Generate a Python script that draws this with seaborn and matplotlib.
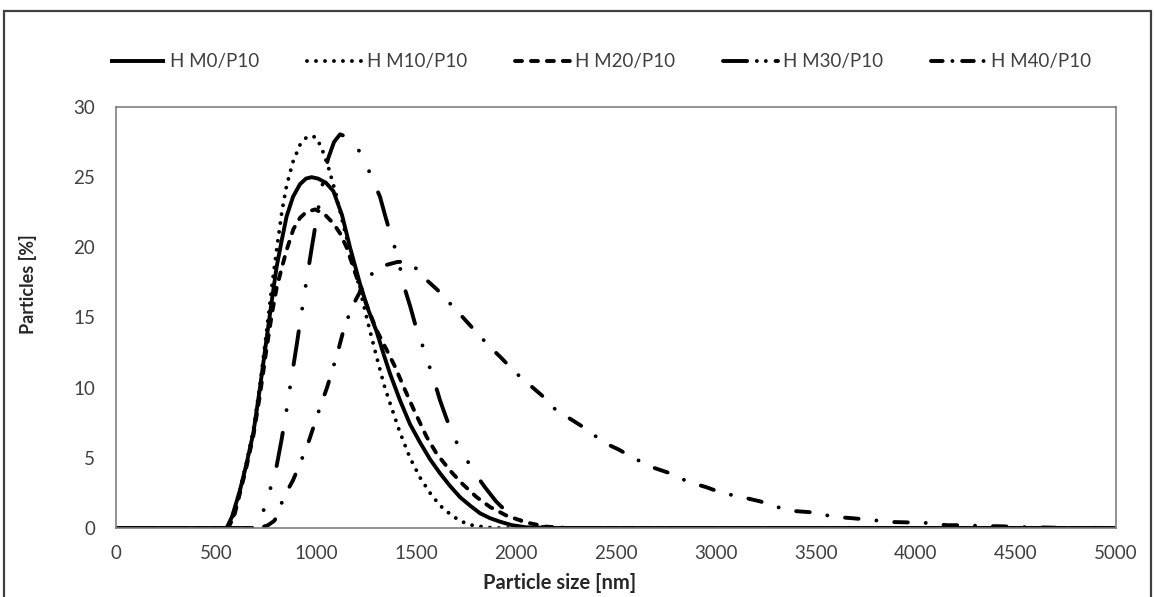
import numpy as np
import pandas as pd
import seaborn as sns
import matplotlib
matplotlib.use("Agg")
import matplotlib.pyplot as plt
from matplotlib.patches import Rectangle
from matplotlib.lines import Line2D

# ---------------- data ----------------
series_names = ["H M0/P10", "H M10/P10", "H M20/P10", "H M30/P10", "H M40/P10"]

m0_x = [0, 500, 553, 580, 620, 653, 687, 720, 753, 780, 803, 830, 853, 885, 920, 950, 978,
        1010, 1050, 1087, 1130, 1170, 1220, 1260, 1303, 1340, 1370, 1420, 1470, 1520, 1570,
        1620, 1670, 1720, 1770, 1820, 1870, 1920, 1980, 2050, 2200, 5000]
m0_y = [0, 0, 0, 0.8, 2.7, 4.6, 6.8, 10.0, 13.5, 16.3, 18.6, 20.6, 22.2, 23.6, 24.5, 24.9, 25.0,
        24.9, 24.6, 24.0, 22.3, 20.0, 17.4, 15.6, 14.0, 12.3, 11.0, 9.1, 7.4, 6.1, 4.9,
        3.9, 3.0, 2.2, 1.6, 1.05, 0.7, 0.45, 0.2, 0.05, 0, 0]

m10_x = [0, 500, 560, 587, 620, 653, 687, 720, 753, 780, 803, 830, 853, 885, 920, 950, 978,
         1003, 1030, 1060, 1100, 1140, 1180, 1220, 1260, 1303, 1340, 1370, 1420, 1470, 1520,
         1570, 1620, 1670, 1720, 1780, 1850, 1900, 5000]
m10_y = [0, 0, 0, 0.8, 2.7, 4.7, 7.0, 10.2, 14.0, 17.3, 19.8, 22.6, 24.4, 26.1, 27.3, 27.8, 27.95,
         27.8, 27.0, 25.8, 23.8, 21.4, 19.2, 17.0, 14.6, 12.2, 10.2, 8.9, 6.8, 5.0, 3.6,
         2.5, 1.6, 1.0, 0.5, 0.2, 0.05, 0, 0]

m20_x = [0, 500, 560, 590, 620, 653, 687, 720, 753, 780, 803, 830, 853, 887, 920, 950, 995,
         1040, 1087, 1120, 1153, 1200, 1250, 1303, 1353, 1395, 1440, 1490, 1553, 1603, 1670,
         1728, 1803, 1870, 1950, 2050, 2150, 2250, 5000]
m20_y = [0, 0, 0, 0.8, 2.5, 4.4, 6.6, 9.5, 12.8, 15.3, 17.1, 18.6, 19.8, 21.3, 22.1, 22.5, 22.7,
         22.4, 21.7, 21.0, 20.0, 18.0, 16.0, 14.1, 12.7, 11.5, 10.0, 8.4, 6.5, 5.3, 4.1,
         3.2, 2.2, 1.5, 0.9, 0.4, 0.1, 0, 0]

m30_x = [0, 700, 730, 760, 795, 828, 855, 873, 903, 923, 950, 978, 1000, 1030, 1060, 1090,
         1120, 1150, 1195, 1245, 1290, 1320, 1345, 1373, 1403, 1445, 1473, 1500, 1535, 1565,
         1595, 1620, 1655, 1695, 1740, 1785, 1845, 1900, 1950, 2000, 2060, 2120, 2200, 5000]
m30_y = [0, 0, 0.9, 2.3, 3.8, 6.3, 8.6, 10.3, 13.0, 14.9, 17.4, 19.9, 21.8, 24.3, 26.3, 27.5,
         28.05, 27.9, 27.4, 26.1, 24.6, 23.6, 22.3, 20.9, 19.6, 17.0, 15.7, 14.3, 12.9, 11.6,
         10.3, 9.1, 7.7, 6.3, 5.2, 4.1, 2.9, 1.9, 1.2, 0.7, 0.3, 0.1, 0, 0]

m40_x = [0, 720, 760, 790, 810, 835, 885, 920, 955, 990, 1020, 1055, 1085, 1110, 1145, 1200,
         1250, 1285, 1340, 1405, 1450, 1500, 1535, 1605, 1670, 1735, 1805, 1870, 1928, 1995,
         2060, 2133, 2200, 2280, 2357, 2437, 2512, 2600, 2687, 2770, 2860, 2953, 3030, 3130,
         3220, 3303, 3400, 3495, 3585, 3680, 3780, 3870, 3960, 4053, 4153, 4245, 4335, 4430,
         4550, 4700, 5000]
m40_y = [0, 0, 0.2, 0.5, 0.9, 2.1, 3.4, 4.6, 5.8, 7.3, 8.6, 10.0, 11.4, 12.6, 14.5, 16.3,
         17.6, 18.2, 18.7, 18.95, 19.0, 18.5, 17.9, 17.0, 16.0, 15.0, 13.9, 12.9, 12.1, 11.1,
         10.3, 9.4, 8.4, 7.7, 7.0, 6.1, 5.6, 4.9, 4.3, 3.9, 3.3, 2.9, 2.5, 2.2,
         1.9, 1.5, 1.2, 1.1, 0.8, 0.7, 0.57, 0.43, 0.4, 0.36, 0.2, 0.2, 0.14, 0.12,
         0.06, 0.02, 0]

x_ticks = [0, 500, 1000, 1500, 2000, 2500, 3000, 3500, 4000, 4500, 5000]
y_ticks = [0, 5, 10, 15, 20, 25, 30]

# ---------------- styling ----------------
sns.set_style("white")
plt.rcParams["font.family"] = ["Lato", "DejaVu Sans"]

W, H = 1154, 597
fig = plt.figure(figsize=(W / 100, H / 100), dpi=100)
ax = fig.add_axes([116 / W, 1 - 528 / H, 1000 / W, 421 / H])

lw = 2.8
styles = [
    "-",
    (0, (0.01, 2.3)),
    (0, (1.8, 2.3)),
    (0, (8.7, 5.9, 0.01, 5.9, 0.01, 5.9)),
    (0, (3.5, 4.6, 0.01, 4.6)),
]
legend_styles = [
    "-",
    (0, (0.01, 2.3)),
    (0, (1.8, 2.3)),
    (0, (6.2, 2.5, 0.01, 2.3, 0.01, 2.5)),
    (0, (3.0, 2.5, 0.01, 2.5)),
]
xs = [m0_x, m10_x, m20_x, m30_x, m40_x]
ys = [m0_y, m10_y, m20_y, m30_y, m40_y]

for name, x, y, ls in zip(series_names, xs, ys, styles):
    df = pd.DataFrame({"size": x, "pct": y})
    sns.lineplot(data=df, x="size", y="pct", ax=ax, color="black", linewidth=lw,
                 linestyle=ls, dash_capstyle="round", solid_capstyle="round",
                 estimator=None, sort=False, label=name, legend=False)

ax.set_xlim(0, 5000)
ax.set_ylim(0, 30)
ax.set_xticks(x_ticks)
ax.set_yticks(y_ticks)
ax.set_xticklabels([str(v) for v in x_ticks])
ax.set_yticklabels([str(v) for v in y_ticks])

for s in ax.spines.values():
    s.set_color("#7f7f7f")
    s.set_linewidth(1.2)
    s.set_visible(True)

ax.tick_params(axis="both", which="major", direction="out", length=5, width=1,
               color="#7f7f7f", labelcolor="#404040", labelsize=13.5)
ax.tick_params(axis="x", pad=7)
ax.tick_params(axis="y", pad=10)

ax.set_xlabel("Particle size [nm]", fontsize=14.5, fontweight="bold", color="#262626")
ax.set_ylabel("Particles [%]", fontsize=13, fontweight="bold", color="#262626")
ax.xaxis.set_label_coords(0.444, -0.108)
ax.yaxis.set_label_coords(-0.079, 0.58)

handles = [Line2D([0], [0], color="black", linewidth=lw, linestyle=ls,
                  dash_capstyle="round", solid_capstyle="butt") for ls in legend_styles]
fig.legend(handles, series_names, loc="center", bbox_to_anchor=(0.52, 1 - 62 / H), ncol=5,
           frameon=False, fontsize=13.5, handlelength=2.95, handletextpad=0.25,
           columnspacing=2.55, labelcolor="#404040")

# outer chart border (partially cropped in the reference)
fig.patches.append(Rectangle((4 / W, -0.05), (1151 - 4) / W, 1 - 11 / H + 0.05,
                             transform=fig.transFigure, fill=False,
                             edgecolor="#404040", linewidth=1.6))

fig.savefig("out.png", dpi=100)
